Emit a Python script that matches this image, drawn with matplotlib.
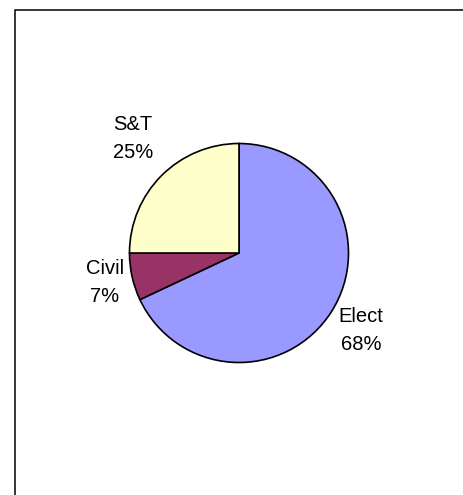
import matplotlib.pyplot as plt
from matplotlib.patches import Rectangle

# ----- dados -----
categorias = ["Elect", "Civil", "S&T"]
percentuais = [68, 7, 25]
cores = ["#9999FF", "#993366", "#FFFFCC"]

# ----- figura em coordenadas de pixel -----
W, H = 463, 495
fig = plt.figure(figsize=(W / 100, H / 100), dpi=100)
ax = fig.add_axes([0, 0, 1, 1])
ax.set_xlim(0, W)
ax.set_ylim(0, H)
ax.set_aspect("equal")
ax.axis("off")

# moldura do gráfico (sai pela direita e por baixo)
ax.add_patch(Rectangle((14.5, -20), 480, H - 9.5 + 20, fill=False,
                       edgecolor="black", linewidth=1.1))

ax.pie(percentuais, colors=cores, startangle=90, counterclock=False,
       center=(239, H - 253), radius=109.5,
       wedgeprops=dict(edgecolor="black", linewidth=1.2))
ax.set_xlim(0, W)
ax.set_ylim(0, H)

# rótulos (posições aproximadas do original)
pos_rotulos = {"Elect": (361, 331), "Civil": (105, 283), "S&T": (133, 138)}
for cat, pct in zip(categorias, percentuais):
    x, y = pos_rotulos[cat]
    ax.text(x, H - y, f"{cat}\n{pct}%", ha="center", va="center",
            fontsize=14.5, family="Liberation Sans", linespacing=1.6)

plt.savefig("out.png", dpi=100)
